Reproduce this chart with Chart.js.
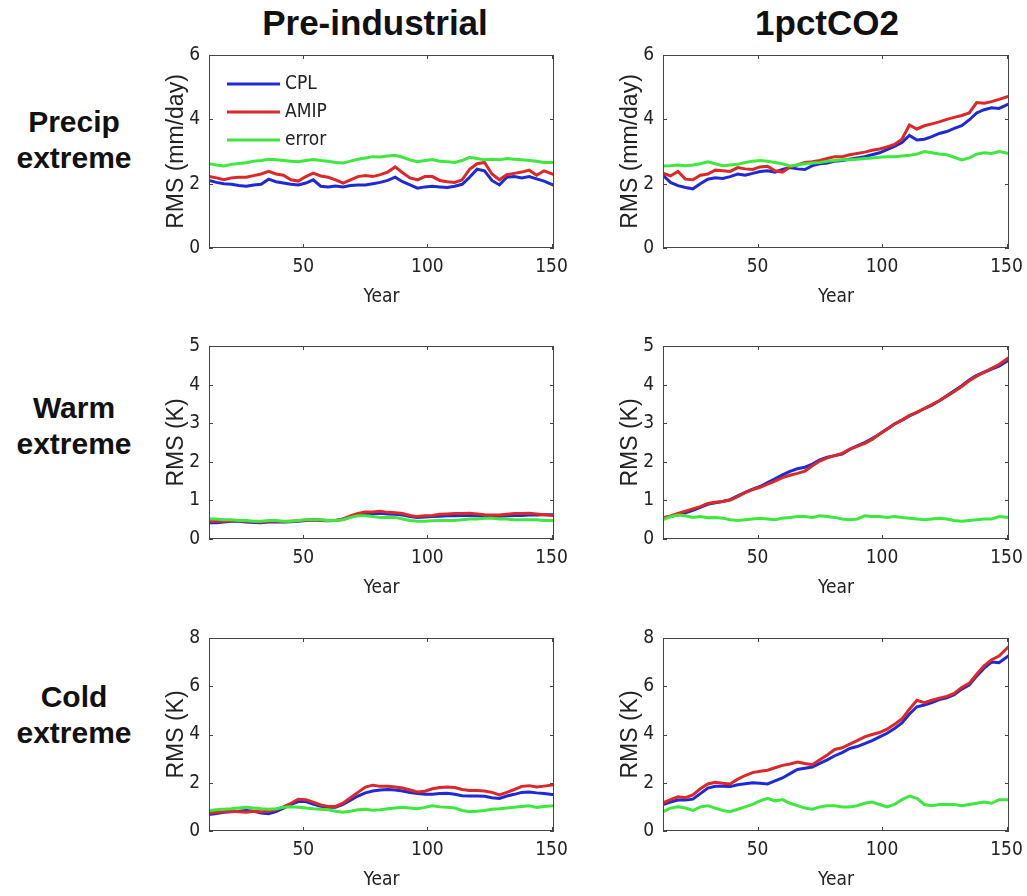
<!DOCTYPE html>
<html>
<head>
<meta charset="utf-8">
<title>RMS of extremes</title>
<script src="https://cdn.jsdelivr.net/npm/chart.js@4.4.1/dist/chart.umd.min.js"></script>
<style>
  body { margin: 0; background: #fff; width: 1027px; height: 896px; position: relative; overflow: hidden;
         font-family: "Liberation Sans", Arial, sans-serif; color: #111; }
  .colTitle { position: absolute; top: 5px; width: 300px; text-align: center; font-weight: bold; font-size: 35px; line-height: 1; }
  .rowTitle { position: absolute; left: 0; width: 148px; text-align: center; font-weight: bold; font-size: 30px; line-height: 36px; }
  canvas { position: absolute; }
</style>
</head>
<body>
<div class="colTitle" style="left:225px">Pre-industrial</div>
<div class="colTitle" style="left:677px">1pctCO2</div>
<div class="rowTitle" style="top:104px">Precip<br>extreme</div>
<div class="rowTitle" style="top:390px">Warm<br>extreme</div>
<div class="rowTitle" style="top:679px">Cold<br>extreme</div>

<canvas id="piPrecip" width="409" height="272" style="left:161px;top:41px"></canvas>
<canvas id="co2Precip" width="410" height="272" style="left:615px;top:41px"></canvas>
<canvas id="piWarm" width="409" height="272" style="left:161px;top:332px"></canvas>
<canvas id="co2Warm" width="410" height="272" style="left:615px;top:332px"></canvas>
<canvas id="piCold" width="409" height="272" style="left:161px;top:624px"></canvas>
<canvas id="co2Cold" width="410" height="272" style="left:615px;top:624px"></canvas>

<script>
const years = [12, 15, 18, 21, 24, 27, 30, 33, 36, 39, 42, 45, 48, 51, 54, 57, 60, 63, 66, 69,
    72, 75, 78, 81, 84, 87, 90, 93, 96, 99, 102, 105, 108, 111, 114, 117, 120, 123, 126, 129,
    132, 135, 138, 141, 144, 147, 151];
const yearTicks = [50, 100, 150];
const seriesNames = ["CPL", "AMIP", "error"];

// Pre-industrial, precip extreme (mm/day)
const piPrecipCPL = [2.10, 2.04, 2.00, 1.98, 1.94, 1.92, 1.96, 1.98, 2.14, 2.06,
    2.02, 1.98, 1.96, 2.02, 2.12, 1.92, 1.90, 1.93, 1.90, 1.94,
    1.96, 1.96, 2.00, 2.04, 2.10, 2.20, 2.06, 1.96, 1.86, 1.90,
    1.92, 1.90, 1.88, 1.92, 1.98, 2.20, 2.45, 2.40, 2.10, 1.96,
    2.20, 2.22, 2.18, 2.22, 2.15, 2.08, 1.95];
const piPrecipAMIP = [2.22, 2.18, 2.12, 2.18, 2.20, 2.20, 2.25, 2.30, 2.38, 2.30,
    2.26, 2.12, 2.08, 2.22, 2.33, 2.24, 2.20, 2.12, 2.02, 2.12,
    2.22, 2.25, 2.22, 2.28, 2.36, 2.52, 2.34, 2.18, 2.12, 2.22,
    2.22, 2.10, 2.06, 2.04, 2.12, 2.45, 2.62, 2.66, 2.30, 2.12,
    2.28, 2.32, 2.36, 2.42, 2.26, 2.40, 2.28];
const piPrecipErr = [2.62, 2.58, 2.55, 2.60, 2.63, 2.65, 2.70, 2.72, 2.76, 2.74,
    2.72, 2.70, 2.68, 2.72, 2.75, 2.72, 2.70, 2.66, 2.64, 2.70,
    2.76, 2.80, 2.84, 2.83, 2.86, 2.88, 2.82, 2.74, 2.68, 2.72,
    2.75, 2.70, 2.68, 2.66, 2.72, 2.82, 2.78, 2.74, 2.76, 2.74,
    2.78, 2.76, 2.74, 2.72, 2.70, 2.66, 2.66];

// 1pctCO2, precip extreme (mm/day)
const co2PrecipCPL = [2.26, 2.04, 1.94, 1.88, 1.84, 2.00, 2.14, 2.18, 2.16, 2.22,
    2.30, 2.26, 2.32, 2.38, 2.40, 2.36, 2.44, 2.50, 2.46, 2.44,
    2.56, 2.62, 2.64, 2.70, 2.72, 2.76, 2.80, 2.84, 2.90, 2.96,
    3.06, 3.16, 3.28, 3.50, 3.36, 3.38, 3.46, 3.56, 3.62, 3.72,
    3.80, 3.98, 4.20, 4.30, 4.36, 4.34, 4.48];
const co2PrecipAMIP = [2.33, 2.24, 2.38, 2.14, 2.12, 2.26, 2.30, 2.42, 2.40, 2.38,
    2.50, 2.46, 2.44, 2.52, 2.54, 2.40, 2.36, 2.52, 2.58, 2.66,
    2.68, 2.72, 2.78, 2.84, 2.84, 2.90, 2.94, 2.98, 3.04, 3.08,
    3.14, 3.22, 3.38, 3.82, 3.70, 3.80, 3.86, 3.92, 4.00, 4.06,
    4.12, 4.20, 4.52, 4.50, 4.55, 4.62, 4.72];
const co2PrecipErr = [2.55, 2.56, 2.58, 2.56, 2.58, 2.62, 2.68, 2.62, 2.56, 2.58,
    2.60, 2.66, 2.70, 2.72, 2.70, 2.66, 2.62, 2.55, 2.58, 2.62,
    2.64, 2.66, 2.70, 2.72, 2.74, 2.74, 2.76, 2.78, 2.80, 2.82,
    2.84, 2.84, 2.86, 2.88, 2.92, 3.00, 2.96, 2.92, 2.90, 2.82,
    2.74, 2.80, 2.92, 2.96, 2.94, 3.00, 2.94];

// Pre-industrial, warm extreme (K)
const piWarmCPL = [0.42, 0.42, 0.44, 0.46, 0.46, 0.44, 0.43, 0.42, 0.44, 0.45,
    0.44, 0.45, 0.46, 0.48, 0.49, 0.48, 0.47, 0.48, 0.51, 0.57,
    0.62, 0.65, 0.66, 0.67, 0.65, 0.64, 0.62, 0.58, 0.56, 0.57,
    0.58, 0.59, 0.60, 0.60, 0.61, 0.61, 0.60, 0.60, 0.59, 0.59,
    0.60, 0.61, 0.61, 0.62, 0.62, 0.63, 0.63];
const piWarmAMIP = [0.46, 0.46, 0.46, 0.48, 0.47, 0.46, 0.45, 0.44, 0.46, 0.46,
    0.45, 0.46, 0.47, 0.49, 0.50, 0.49, 0.48, 0.48, 0.52, 0.60,
    0.66, 0.70, 0.70, 0.72, 0.69, 0.68, 0.66, 0.61, 0.58, 0.60,
    0.61, 0.64, 0.65, 0.66, 0.66, 0.67, 0.65, 0.63, 0.62, 0.62,
    0.64, 0.66, 0.66, 0.67, 0.65, 0.63, 0.61];
const piWarmErr = [0.52, 0.52, 0.50, 0.50, 0.48, 0.48, 0.46, 0.46, 0.48, 0.48,
    0.46, 0.46, 0.48, 0.50, 0.50, 0.50, 0.48, 0.48, 0.50, 0.56,
    0.60, 0.60, 0.58, 0.56, 0.56, 0.56, 0.52, 0.48, 0.46, 0.46,
    0.47, 0.48, 0.48, 0.48, 0.50, 0.52, 0.52, 0.54, 0.54, 0.52,
    0.52, 0.50, 0.50, 0.50, 0.50, 0.48, 0.48];

// 1pctCO2, warm extreme (K)
const co2WarmCPL = [0.54, 0.58, 0.63, 0.68, 0.74, 0.82, 0.90, 0.94, 0.97, 1.02,
    1.12, 1.21, 1.29, 1.36, 1.46, 1.56, 1.66, 1.75, 1.82, 1.86,
    1.94, 2.05, 2.12, 2.16, 2.20, 2.32, 2.41, 2.50, 2.60, 2.72,
    2.85, 2.98, 3.08, 3.19, 3.28, 3.38, 3.47, 3.58, 3.71, 3.84,
    3.97, 4.12, 4.24, 4.32, 4.40, 4.48, 4.64];
const co2WarmAMIP = [0.55, 0.60, 0.66, 0.72, 0.78, 0.84, 0.92, 0.95, 0.97, 1.01,
    1.10, 1.20, 1.28, 1.34, 1.42, 1.50, 1.59, 1.65, 1.70, 1.76,
    1.90, 2.02, 2.10, 2.16, 2.22, 2.33, 2.40, 2.48, 2.58, 2.72,
    2.84, 2.98, 3.08, 3.20, 3.28, 3.38, 3.48, 3.58, 3.70, 3.82,
    3.95, 4.10, 4.22, 4.32, 4.42, 4.52, 4.70];
const co2WarmErr = [0.50, 0.58, 0.62, 0.60, 0.56, 0.58, 0.55, 0.56, 0.54, 0.50,
    0.48, 0.50, 0.52, 0.54, 0.52, 0.50, 0.54, 0.56, 0.58, 0.58,
    0.56, 0.60, 0.58, 0.56, 0.52, 0.50, 0.52, 0.60, 0.58, 0.58,
    0.56, 0.58, 0.56, 0.54, 0.52, 0.50, 0.52, 0.54, 0.52, 0.48,
    0.46, 0.48, 0.50, 0.52, 0.52, 0.58, 0.56];

// Pre-industrial, cold extreme (K)
const piColdCPL = [0.68, 0.72, 0.78, 0.80, 0.82, 0.85, 0.82, 0.75, 0.72, 0.80,
    0.95, 1.10, 1.22, 1.22, 1.12, 1.02, 0.98, 0.98, 1.10, 1.28,
    1.45, 1.58, 1.66, 1.70, 1.72, 1.70, 1.66, 1.60, 1.55, 1.52,
    1.52, 1.55, 1.56, 1.52, 1.46, 1.45, 1.45, 1.44, 1.38, 1.35,
    1.45, 1.52, 1.60, 1.62, 1.58, 1.55, 1.50];
const piColdAMIP = [0.75, 0.78, 0.80, 0.82, 0.80, 0.78, 0.82, 0.80, 0.82, 0.88,
    1.00, 1.15, 1.32, 1.30, 1.20, 1.08, 1.02, 1.02, 1.15, 1.38,
    1.60, 1.82, 1.90, 1.85, 1.85, 1.82, 1.78, 1.70, 1.62, 1.65,
    1.75, 1.80, 1.82, 1.80, 1.72, 1.68, 1.68, 1.66, 1.60, 1.50,
    1.60, 1.72, 1.85, 1.88, 1.82, 1.86, 1.92];
const piColdErr = [0.85, 0.88, 0.90, 0.92, 0.95, 0.98, 0.95, 0.92, 0.90, 0.92,
    0.98, 1.00, 0.98, 0.95, 0.92, 0.90, 0.88, 0.82, 0.78, 0.82,
    0.88, 0.90, 0.86, 0.88, 0.92, 0.95, 0.98, 0.95, 0.92, 0.98,
    1.05, 1.00, 0.98, 0.95, 0.85, 0.80, 0.82, 0.85, 0.90, 0.92,
    0.95, 0.98, 1.02, 1.05, 0.98, 1.02, 1.05];

// 1pctCO2, cold extreme (K)
const co2ColdCPL = [1.10, 1.20, 1.28, 1.28, 1.32, 1.55, 1.78, 1.85, 1.85, 1.84,
    1.92, 1.96, 2.00, 1.98, 1.95, 2.08, 2.20, 2.38, 2.55, 2.60,
    2.65, 2.80, 2.95, 3.12, 3.25, 3.42, 3.50, 3.62, 3.75, 3.90,
    4.05, 4.25, 4.48, 4.85, 5.15, 5.22, 5.32, 5.45, 5.52, 5.65,
    5.88, 6.05, 6.42, 6.75, 7.00, 6.98, 7.28];
const co2ColdAMIP = [1.16, 1.30, 1.42, 1.38, 1.50, 1.75, 1.95, 2.02, 1.98, 1.95,
    2.15, 2.30, 2.42, 2.48, 2.52, 2.62, 2.72, 2.78, 2.86, 2.80,
    2.75, 2.95, 3.15, 3.38, 3.45, 3.60, 3.75, 3.90, 4.00, 4.08,
    4.22, 4.42, 4.65, 5.05, 5.42, 5.32, 5.42, 5.50, 5.58, 5.70,
    5.95, 6.12, 6.50, 6.85, 7.10, 7.25, 7.66];
const co2ColdErr = [0.80, 0.95, 1.00, 0.95, 0.85, 1.00, 1.05, 0.95, 0.85, 0.80,
    0.90, 1.00, 1.10, 1.25, 1.35, 1.25, 1.30, 1.15, 1.05, 0.95,
    0.90, 1.00, 1.05, 1.05, 1.00, 1.00, 1.05, 1.15, 1.20, 1.10,
    1.00, 1.10, 1.30, 1.45, 1.35, 1.10, 1.05, 1.10, 1.10, 1.10,
    1.05, 1.10, 1.15, 1.20, 1.15, 1.30, 1.30];

const lineColors = ["#1e2ad6", "#dc2828", "#3ee83e"];
const tickFont = { family: '"Liberation Sans Narrow", "DejaVu Sans Condensed", Arial, sans-serif', size: 19 };
const yTitleFont = { family: '"Liberation Sans", Arial, sans-serif', size: 23 };
const inkColor = "#222";

// frame, inward tick marks and the legend, MATLAB style
const boxPlugin = {
    id: "box",
    afterDatasetsDraw(chart, args, opts) {
        const { ctx, chartArea: a, scales } = chart;
        ctx.save();
        ctx.strokeStyle = "#444";
        ctx.lineWidth = 1;
        ctx.strokeRect(a.left + 0.5, a.top + 0.5, a.width - 1, a.height - 1);
        ctx.beginPath();
        scales.x.ticks.forEach(t => {
            const px = Math.round(scales.x.getPixelForValue(t.value)) + 0.5;
            ctx.moveTo(px, a.bottom); ctx.lineTo(px, a.bottom - 4);
            ctx.moveTo(px, a.top); ctx.lineTo(px, a.top + 4);
        });
        scales.y.ticks.forEach(t => {
            const py = Math.round(scales.y.getPixelForValue(t.value)) + 0.5;
            ctx.moveTo(a.left, py); ctx.lineTo(a.left + 4, py);
            ctx.moveTo(a.right, py); ctx.lineTo(a.right - 4, py);
        });
        ctx.stroke();

        if (opts.legend) {
            ctx.font = tickFont.size + "px " + tickFont.family;
            ctx.textBaseline = "middle";
            chart.data.datasets.forEach((ds, i) => {
                const y = a.top + 29 + i * 28;
                ctx.strokeStyle = ds.borderColor;
                ctx.lineWidth = 3;
                ctx.beginPath();
                ctx.moveTo(a.left + 18, y);
                ctx.lineTo(a.left + 71, y);
                ctx.stroke();
                ctx.fillStyle = inkColor;
                ctx.fillText(ds.label, a.left + 76, y);
            });
        }
        ctx.restore();
    }
};

function makePanel(id, cpl, amip, err, yMax, yStep, yTitle, legend) {
    const values = [cpl, amip, err];
    new Chart(document.getElementById(id), {
        type: "line",
        data: {
            datasets: values.map((v, i) => ({
                label: seriesNames[i],
                data: years.map((yr, j) => ({ x: yr, y: v[j] })),
                borderColor: lineColors[i],
                borderWidth: 3,
                pointRadius: 0,
                tension: 0,
                order: 3 - i
            }))
        },
        options: {
            responsive: false,
            animation: false,
            layout: { padding: { top: 14, right: 16, left: 0, bottom: 0 } },
            plugins: { legend: { display: false }, tooltip: { enabled: false }, box: { legend: legend } },
            scales: {
                x: {
                    type: "linear", min: 12, max: 151,
                    afterBuildTicks: s => { s.ticks = yearTicks.map(v => ({ value: v })); },
                    afterFit: s => { s.height = 65; s.paddingLeft = 0; s.paddingRight = 0; },
                    grid: { display: false, drawTicks: false },
                    border: { display: false },
                    ticks: { font: tickFont, color: inkColor, padding: 8, maxRotation: 0 },
                    title: { display: true, text: "Year", font: tickFont, color: inkColor, padding: { top: 4, bottom: 5 } }
                },
                y: {
                    min: 0, max: yMax,
                    afterFit: s => { s.width = 48; s.paddingTop = 0; s.paddingBottom = 0; },
                    grid: { display: false, drawTicks: false },
                    border: { display: false },
                    ticks: { stepSize: yStep, font: tickFont, color: inkColor, padding: 9 },
                    title: { display: true, text: yTitle, font: yTitleFont, color: inkColor, padding: { top: 2, bottom: 0 } }
                }
            }
        },
        plugins: [boxPlugin]
    });
}

makePanel("piPrecip", piPrecipCPL, piPrecipAMIP, piPrecipErr, 6, 2, "RMS (mm/day)", true);
makePanel("co2Precip", co2PrecipCPL, co2PrecipAMIP, co2PrecipErr, 6, 2, "RMS (mm/day)", false);
makePanel("piWarm", piWarmCPL, piWarmAMIP, piWarmErr, 5, 1, "RMS (K)", false);
makePanel("co2Warm", co2WarmCPL, co2WarmAMIP, co2WarmErr, 5, 1, "RMS (K)", false);
makePanel("piCold", piColdCPL, piColdAMIP, piColdErr, 8, 2, "RMS (K)", false);
makePanel("co2Cold", co2ColdCPL, co2ColdAMIP, co2ColdErr, 8, 2, "RMS (K)", false);
</script>
</body>
</html>
